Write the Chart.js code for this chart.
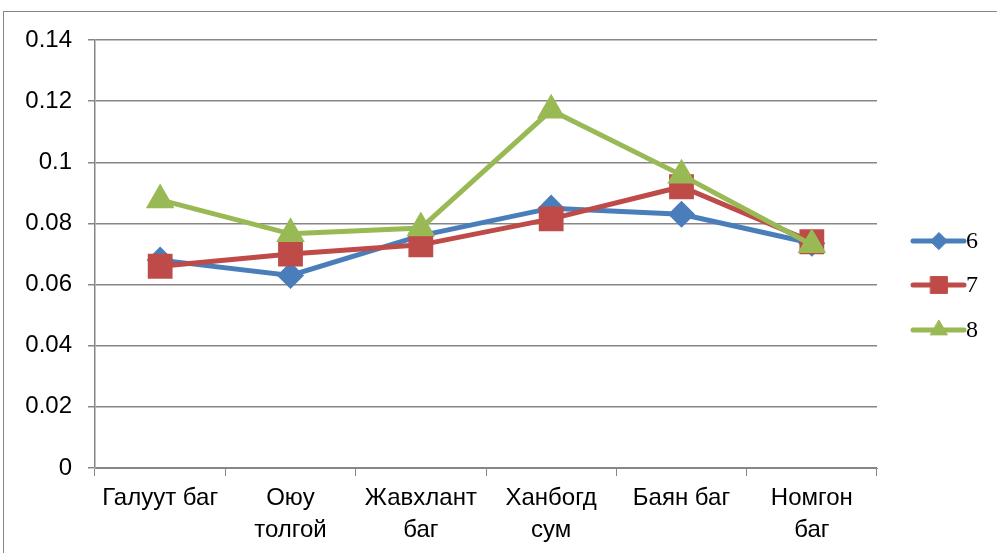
<!DOCTYPE html>
<html>
<head>
<meta charset="utf-8">
<script src="https://cdn.jsdelivr.net/npm/chart.js@4"></script>
<style>
  html, body { margin: 0; padding: 0; background: #fff; overflow: hidden; }
  #frame {
    position: absolute; left: 3px; top: 11px;
    width: 1100px; height: 700px;
    border: 1px solid #868686;
  }
  #wrap { position: absolute; left: 0; top: 0; width: 997px; height: 553px; }
</style>
</head>
<body>
<div id="frame"></div>
<div id="wrap"><canvas id="chart" width="997" height="553"></canvas></div>
<script>
const categories = [
  "Галуут баг",
  ["Оюу", "толгой"],
  ["Жавхлант", "баг"],
  ["Ханбогд", "сум"],
  "Баян баг",
  ["Номгон", "баг"]
];
const series6 = [0.068, 0.063, 0.076, 0.085, 0.083, 0.0735];
const series7 = [0.066, 0.070, 0.073, 0.0815, 0.092, 0.074];
const series8 = [0.0877, 0.0766, 0.0785, 0.117, 0.0958, 0.073];
const seriesNames = ["6", "7", "8"];

const font = "'Liberation Sans', Arial, sans-serif";

// Excel-like legend: short line with marker in the middle
const legendPlugin = {
  id: "excelLegend",
  afterDraw(chart) {
    const ctx = chart.ctx;
    const ys = [241, 285, 330];
    chart.data.datasets.forEach((ds, i) => {
      const y = ys[i];
      ctx.save();
      ctx.strokeStyle = ds.borderColor;
      ctx.fillStyle = ds.borderColor;
      ctx.lineWidth = 5;
      ctx.lineCap = "round";
      ctx.beginPath();
      ctx.moveTo(913, y);
      ctx.lineTo(964, y);
      ctx.stroke();
      ctx.lineWidth = 1;
      Chart.helpers.drawPoint(ctx, {
        pointStyle: ds.pointStyle,
        radius: ds.pointRadius * 0.85,
        rotation: 0,
        borderWidth: 1
      }, 939, y);
      ctx.fillStyle = "#000";
      ctx.font = "24px 'Liberation Serif', 'Times New Roman', serif";
      ctx.textBaseline = "middle";
      ctx.fillText(ds.label, 966, y + 1);
      ctx.restore();
    });
  }
};

function makeSet(label, data, color, style, r, order) {
  return {
    label: label,
    data: data,
    order: order,
    borderColor: color,
    backgroundColor: color,
    pointBackgroundColor: color,
    pointBorderColor: color,
    borderWidth: 5,
    pointStyle: style,
    pointRadius: r,
    pointHoverRadius: r,
    tension: 0
  };
}

new Chart(document.getElementById("chart"), {
  type: "line",
  data: {
    labels: categories,
    datasets: [
      makeSet(seriesNames[0], series6, "#4A7EBB", "rectRot", 10, 3),
      makeSet(seriesNames[1], series7, "#BE4B48", "rect", 14, 2),
      makeSet(seriesNames[2], series8, "#98B954", "triangle", 11.5, 1)
    ]
  },
  options: {
    responsive: false,
    animation: false,
    devicePixelRatio: 1,
    layout: { padding: { top: 40, right: 120, left: 0, bottom: 0 } },
    plugins: {
      legend: { display: false },
      tooltip: { enabled: false }
    },
    scales: {
      x: {
        offset: true,
        grid: {
          offset: true,
          drawOnChartArea: false,
          drawTicks: true,
          tickLength: 8,
          color: "#868686"
        },
        border: { color: "#868686", width: 1 },
        ticks: {
          color: "#000",
          font: { family: font, size: 24, lineHeight: 1.35 },
          maxRotation: 0,
          autoSkip: false,
          padding: 6
        },
        afterFit(scale) { scale.height = 85; }
      },
      y: {
        min: 0,
        max: 0.14,
        grid: {
          color: "#868686",
          lineWidth: 1.5,
          tickLength: 7
        },
        border: { color: "#868686", width: 1.5 },
        ticks: {
          stepSize: 0.02,
          color: "#000",
          font: { family: font, size: 24 },
          padding: 16,
          callback: v => String(Math.round(v * 100) / 100)
        },
        afterFit(scale) { scale.width = 95; }
      }
    }
  },
  plugins: [legendPlugin]
});
</script>
</body>
</html>
